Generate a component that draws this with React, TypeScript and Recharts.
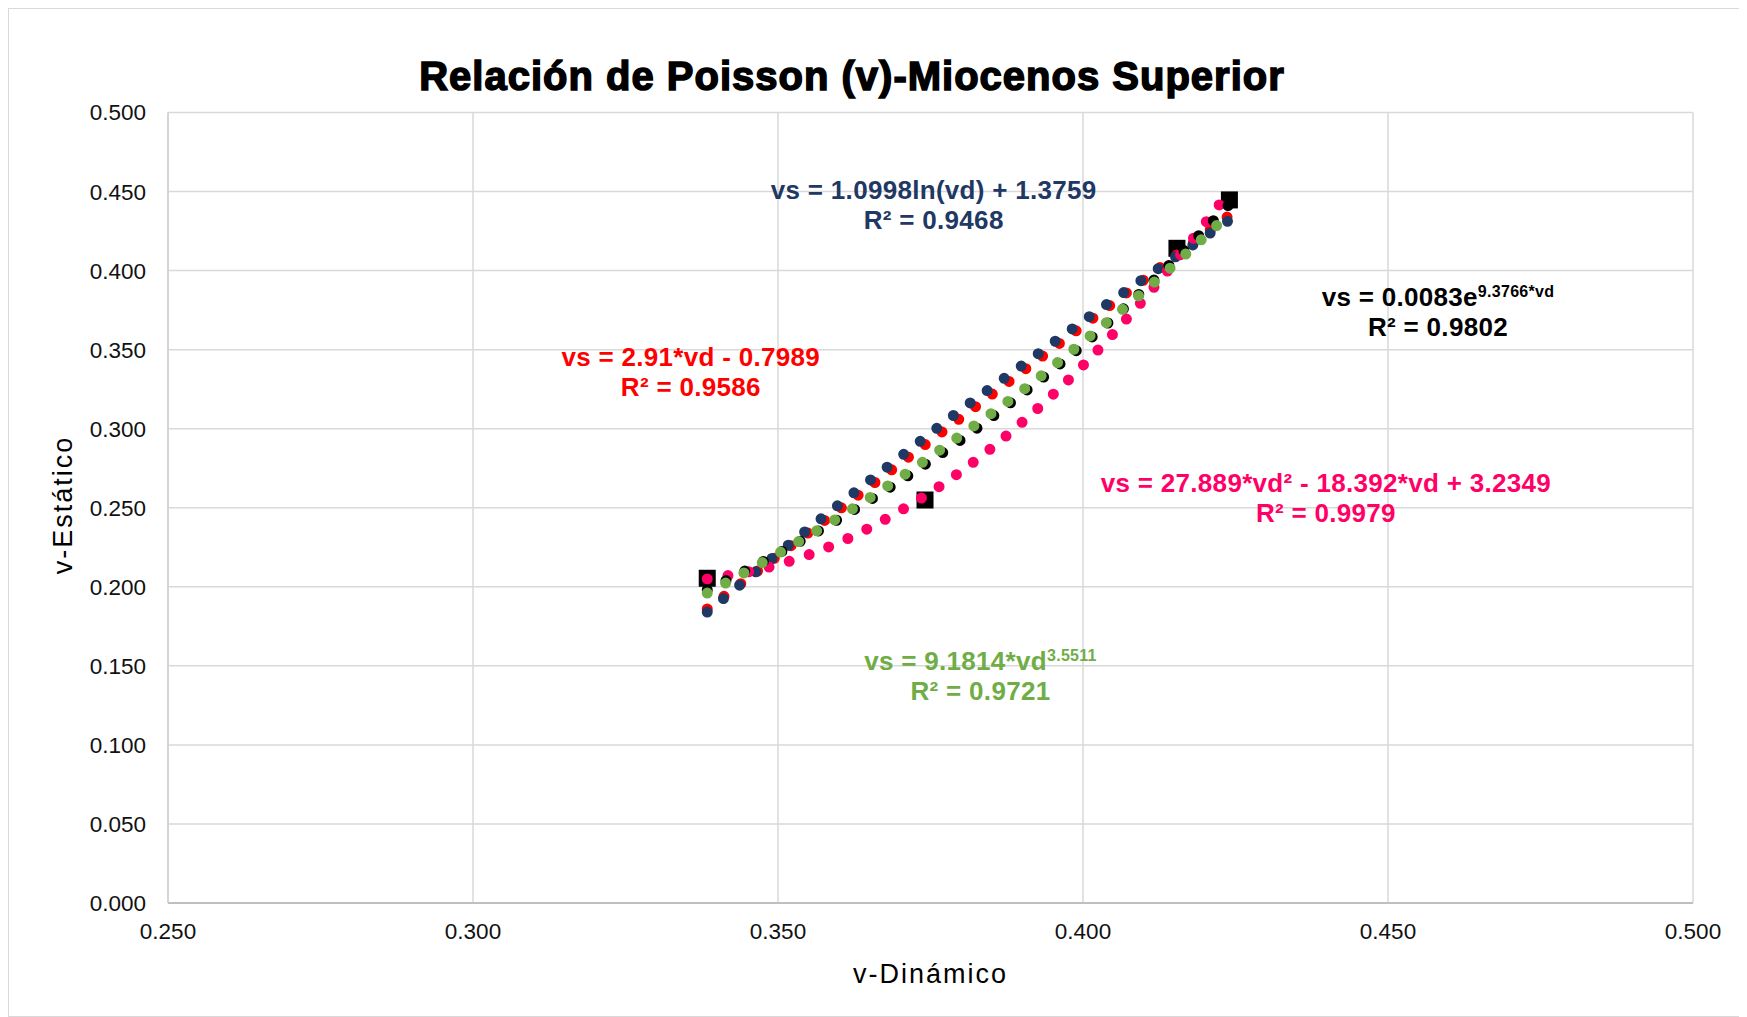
import { CartesianGrid, ComposedChart, Line, Scatter, XAxis, YAxis } from 'recharts';

// measured points (black squares)
const vdMeasured = [0.3384, 0.3741, 0.4154, 0.424];
const vsMeasured = [0.2054, 0.2549, 0.4141, 0.4447];

// trendline points
const trendVd = [0.3384, 0.35, 0.36, 0.37, 0.38, 0.39, 0.4, 0.41, 0.424];
const logTrend = [0.184, 0.221, 0.252, 0.282, 0.312, 0.34, 0.368, 0.395, 0.432];
const polyTrend = [0.205, 0.214, 0.228, 0.248, 0.273, 0.304, 0.34, 0.382, 0.45];
const expTrend = [0.198, 0.221, 0.243, 0.267, 0.293, 0.322, 0.353, 0.388, 0.442];
const powerTrend = [0.196, 0.221, 0.244, 0.269, 0.296, 0.324, 0.355, 0.387, 0.436];
const linearVd = [0.3384, 0.424];
const linearTrend = [0.186, 0.435];

const xTicks = [0.25, 0.3, 0.35, 0.4, 0.45, 0.5];
const yTicks = [0, 0.05, 0.1, 0.15, 0.2, 0.25, 0.3, 0.35, 0.4, 0.45, 0.5];

const NAVY = '#1F3864';
const RED = '#FF0000';
const PINK = '#FF0066';
const GREEN = '#70AD47';
const BLACK = '#000000';

const FONT = '"Liberation Sans", Arial, sans-serif';

const W = 1739;
const H = 1009;

const toPoints = (xs: number[], ys: number[]) => xs.map((x, i) => ({ x, y: ys[i] }));

const measured = toPoints(vdMeasured, vsMeasured);
const logData = toPoints(trendVd, logTrend);
const polyData = toPoints(trendVd, polyTrend);
const expData = toPoints(trendVd, expTrend);
const powerData = toPoints(trendVd, powerTrend);
const linearData = toPoints(linearVd, linearTrend);

const dotted = {
    strokeWidth: 11,
    strokeDasharray: '0 21',
    strokeLinecap: 'round' as const,
    dot: false,
    activeDot: false,
    isAnimationActive: false,
    type: 'monotone' as const,
    zIndex: 700,
};

const SquareMarker = (props: any) => (
    <rect x={props.cx - 8.5} y={props.cy - 8.5} width={17} height={17} fill="#000" />
);

function Annotation({ x, y, color, children, r2 }: { x: number; y: number; color: string; children: any; r2: string }) {
    return (
        <g fill={color} fontFamily={FONT} fontWeight="bold" fontSize={26} textAnchor="middle" letterSpacing={0.3}>
            <text x={x} y={y}>{children}</text>
            <text x={x} y={y + 30}>{`R² = ${r2}`}</text>
        </g>
    );
}

export default function App() {
    const fmt = (v: number) => v.toFixed(3);
    return (
        <div style={{ position: 'relative', width: W, height: H, fontFamily: FONT }}>
            <ComposedChart width={W} height={H} margin={{ top: 104.5, right: 54, bottom: 0, left: 0 }}>
                <CartesianGrid stroke="#d9d9d9" strokeWidth={1.5} />
                <XAxis
                    dataKey="x"
                    type="number"
                    domain={[0.25, 0.5]}
                    ticks={xTicks}
                    interval={0}
                    allowDataOverflow
                    height={114}
                    tickSize={0}
                    tickMargin={20}
                    tickFormatter={fmt}
                    axisLine={{ stroke: '#bfbfbf', strokeWidth: 2 }}
                    tick={{ fontSize: 22.5, fill: '#111', fontFamily: FONT }}
                />
                <YAxis
                    dataKey="y"
                    type="number"
                    domain={[0, 0.5]}
                    ticks={yTicks}
                    interval={0}
                    allowDataOverflow
                    width={160}
                    tickSize={0}
                    tickMargin={22}
                    tickFormatter={fmt}
                    axisLine={{ stroke: '#d0d0d0', strokeWidth: 1.5 }}
                    tick={{ fontSize: 22.5, fill: '#111', fontFamily: FONT }}
                />
                {/* measured values sit underneath the trend dots */}
                <Scatter data={measured} shape={SquareMarker} isAnimationActive={false} zIndex={100} />
                <Line data={linearData} dataKey="y" stroke={RED} {...dotted} />
                <Line data={logData} dataKey="y" stroke={NAVY} {...dotted} />
                <Line data={polyData} dataKey="y" stroke={PINK} {...dotted} />
                <Line data={expData} dataKey="y" stroke={BLACK} {...dotted} />
                <Line data={powerData} dataKey="y" stroke={GREEN} {...dotted} />
            </ComposedChart>

            <svg width={W} height={H} style={{ position: 'absolute', left: 0, top: 0, pointerEvents: 'none' }}>
                <rect x={0.5} y={0.5} width={W - 1} height={H - 1} fill="none" stroke="#d9d9d9" />
                <text
                    x={844}
                    y={82}
                    textAnchor="middle"
                    fontFamily={FONT}
                    fontWeight="bold"
                    fontSize={40}
                    letterSpacing={1}
                    fill="#000"
                    stroke="#000"
                    strokeWidth={1.5}
                >
                    Relación de Poisson (v)-Miocenos Superior
                </text>
                <text x={922.5} y={974.5} textAnchor="middle" fontFamily={FONT} fontSize={27} letterSpacing={2} fill="#000">
                    v-Dinámico
                </text>
                <text
                    transform="translate(55,497) rotate(-90)"
                    y={9}
                    textAnchor="middle"
                    fontFamily={FONT}
                    fontSize={27}
                    letterSpacing={2}
                    fill="#000"
                >
                    v-Estático
                </text>

                <Annotation x={925.7} y={190.7} color={NAVY} r2="0.9468">
                    vs = 1.0998ln(vd) + 1.3759
                </Annotation>
                <Annotation x={1430} y={298} color={BLACK} r2="0.9802">
                    vs = 0.0083e<tspan dy={-9} fontSize={16}>9.3766*vd</tspan>
                </Annotation>
                <Annotation x={682.8} y={357.8} color={RED} r2="0.9586">
                    vs = 2.91*vd - 0.7989
                </Annotation>
                <Annotation x={1317.9} y={483.7} color={PINK} r2="0.9979">
                    vs = 27.889*vd² - 18.392*vd + 3.2349
                </Annotation>
                <Annotation x={972.5} y={662} color={GREEN} r2="0.9721">
                    vs = 9.1814*vd<tspan dy={-9} fontSize={16}>3.5511</tspan>
                </Annotation>
            </svg>
        </div>
    );
}
